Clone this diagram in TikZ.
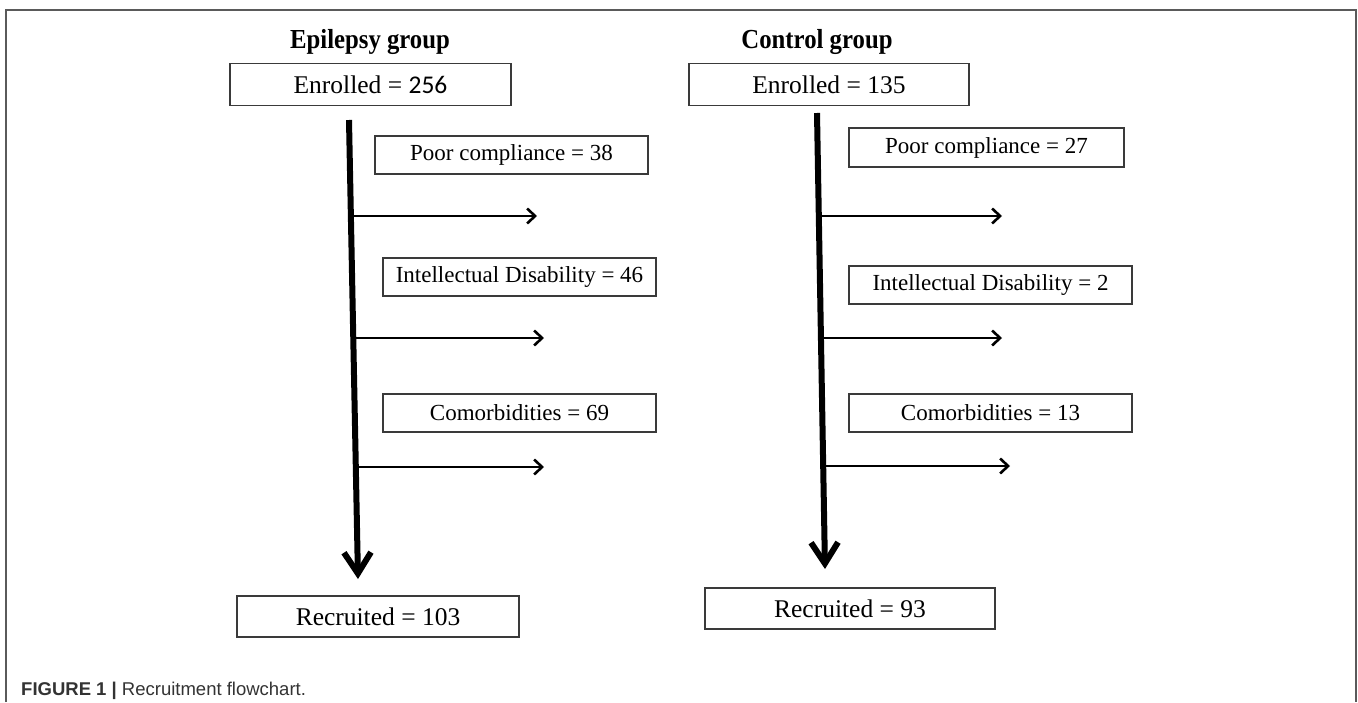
\documentclass[tikz,border=0pt]{standalone}
\usepackage{fontspec}
\setmainfont{Liberation Serif}
\newfontfamily\capfont{Liberation Sans}
\newfontfamily\titlefont[FakeStretch=0.9]{Liberation Serif}
\newfontfamily\numfont{Carlito}
\usetikzlibrary{arrows.meta}
\definecolor{boxline}{HTML}{3A3A3A}
\definecolor{frameline}{HTML}{5A5A5A}
\definecolor{captext}{HTML}{333333}
\tikzset{
  flowbox/.style={draw=boxline, line width=1.3pt, inner sep=0pt, minimum height=38pt, font=\fontsize{23}{26}\selectfont},
  bigbox/.style={flowbox, minimum height=42pt, font=\fontsize{25.5}{28}\selectfont},
  title/.style={font=\titlefont\fontsize{27.5}{30}\selectfont\bfseries, inner sep=0pt},
  mainflow/.style={line width=6pt, -{Straight Barb[length=21pt,width=27pt,line width=6pt]}},
  exclflow/.style={line width=2.6pt, -{Straight Barb[length=8pt,width=15pt,line width=2.6pt]}},
  frame/.style={draw=frameline, line width=2pt}
}
\begin{document}
\begin{tikzpicture}[x=1pt,y=-1pt]
\useasboundingbox (0,0) rectangle (1358,702);
\fill[white] (0,0) rectangle (1358,702);
\draw[frame] (6,702) -- (6,10) -- (1356,10) -- (1356,702);

% Epilepsy group
\node[title] (tE) at (370,42) {Epilepsy group};
\node[bigbox, minimum width=281pt] (enrE) at (370.5,84.5) {Enrolled = {\numfont 256}};
\node[flowbox, minimum width=273pt] (pcE) at (511.5,155) {Poor compliance = 38};
\node[flowbox, minimum width=273pt] (idE) at (519.5,277) {Intellectual Disability = 46};
\node[flowbox, minimum width=273pt] (coE) at (519.5,413) {Comorbidities = 69};
\node[bigbox, minimum width=282pt, minimum height=41pt] (recE) at (378,616.5) {Recruited = 103};

\coordinate (eS) at (349,120);
\coordinate (eT) at (358,579);
\draw[mainflow] (eS) -- (eT);
\coordinate (e1a) at (353,216); \coordinate (e1b) at (537,216);
\coordinate (e2a) at (355,338); \coordinate (e2b) at (544,338);
\coordinate (e3a) at (357,467); \coordinate (e3b) at (544,467);
\draw[exclflow] (e1a) -- (e1b);
\draw[exclflow] (e2a) -- (e2b);
\draw[exclflow] (e3a) -- (e3b);

% Control group
\node[title] (tC) at (817,42) {Control group};
\node[bigbox, minimum width=280pt] (enrC) at (829,84.5) {Enrolled = 135};
\node[flowbox, minimum width=275pt, minimum height=39pt] (pcC) at (986.5,147.5) {Poor compliance = 27};
\node[flowbox, minimum width=283pt] (idC) at (990.5,285) {Intellectual Disability = 2};
\node[flowbox, minimum width=283pt] (coC) at (990.5,413) {Comorbidities = 13};
\node[bigbox, minimum width=290pt, minimum height=41pt] (recC) at (850,608.5) {Recruited = 93};

\coordinate (cS) at (817,113);
\coordinate (cT) at (825,569);
\draw[mainflow] (cS) -- (cT);
\coordinate (c1a) at (818,216); \coordinate (c1b) at (1002,216);
\coordinate (c2a) at (818,338); \coordinate (c2b) at (1002,338);
\coordinate (c3a) at (824,466); \coordinate (c3b) at (1010,466);
\draw[exclflow] (c1a) -- (c1b);
\draw[exclflow] (c2a) -- (c2b);
\draw[exclflow] (c3a) -- (c3b);

% Caption
\node[anchor=base west, inner sep=0pt, text=captext, font=\capfont\fontsize{18.5}{20}\selectfont] (cap) at (21,695) {\textbf{FIGURE 1 |} Recruitment flowchart.};
\end{tikzpicture}
\end{document}
